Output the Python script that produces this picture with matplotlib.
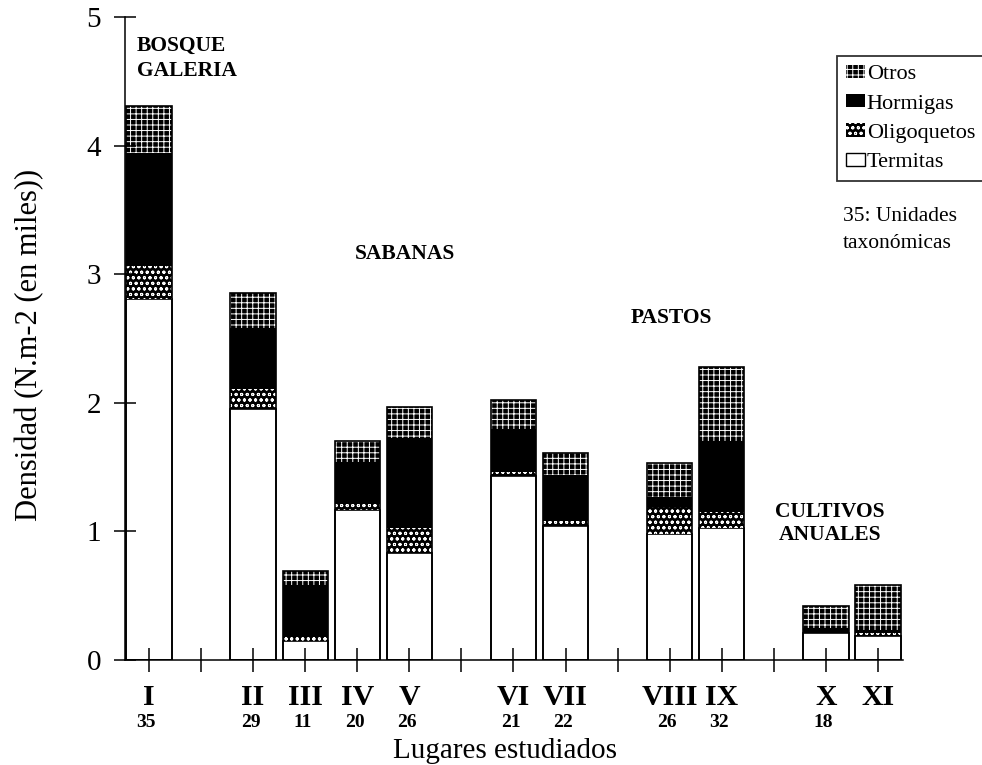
import matplotlib
matplotlib.use("Agg")
import matplotlib.pyplot as plt
from matplotlib.patches import Patch
from matplotlib.transforms import blended_transform_factory

plt.rcParams["font.family"] = ["Liberation Serif", "DejaVu Serif"]
plt.rcParams["hatch.linewidth"] = 0.7

# Study sites, grouped by land use (an empty slot separates groups)
site_groups = [["I"], ["II", "III", "IV", "V"], ["VI", "VII"], ["VIII", "IX"], ["X", "XI"]]
taxa_units = [35, 29, 11, 20, 26, 21, 22, 26, 32, 18, None]

# Density (thousands of individuals per m2) by group
termitas = [2.81, 1.95, 0.15, 1.17, 0.83, 1.43, 1.04, 0.98, 1.03, 0.21, 0.19]
oligoquetos = [0.25, 0.16, 0.03, 0.04, 0.20, 0.03, 0.04, 0.21, 0.12, 0.00, 0.02]
hormigas = [0.88, 0.47, 0.40, 0.33, 0.70, 0.34, 0.36, 0.08, 0.55, 0.04, 0.02]
otros = [0.37, 0.27, 0.11, 0.16, 0.24, 0.22, 0.17, 0.26, 0.58, 0.17, 0.35]

# Slot layout: one slot per site plus one empty slot between groups
sites, xpos, slot = [], [], 0
for gi, grp in enumerate(site_groups):
    if gi > 0:
        slot += 1
    for s in grp:
        sites.append(s)
        xpos.append(slot)
        slot += 1
n_slots = slot

OTROS_HATCH = "+++"
OLIGO_HATCH = "ooo"

fig = plt.figure(figsize=(9.82, 7.65), dpi=100)
ax = fig.add_axes([125 / 982, 1 - 660 / 765, (903 - 125) / 982, (660 - 17) / 765])

width = 0.87
bottom = [0.0] * len(sites)

# Termitas: white
ax.bar(xpos, termitas, width, bottom=bottom, facecolor="white", edgecolor="black", linewidth=1.2)
bottom = [b + v for b, v in zip(bottom, termitas)]
# Oligoquetos: black with white dotted pattern
ax.bar(xpos, oligoquetos, width, bottom=bottom, facecolor="black", edgecolor="white",
       hatch=OLIGO_HATCH, linewidth=0)
bottom = [b + v for b, v in zip(bottom, oligoquetos)]
# Hormigas: solid black
ax.bar(xpos, hormigas, width, bottom=bottom, facecolor="black", edgecolor="black", linewidth=0)
bottom = [b + v for b, v in zip(bottom, hormigas)]
# Otros: black with white grid
ax.bar(xpos, otros, width, bottom=bottom, facecolor="black", edgecolor="white",
       hatch=OTROS_HATCH, linewidth=0)
bottom = [b + v for b, v in zip(bottom, otros)]
# Outline of each full column
ax.bar(xpos, bottom, width, fill=False, edgecolor="black", linewidth=1.2)

ax.set_xlim(-0.46, n_slots - 1 + 0.48)
ax.set_ylim(0, 5)
ax.spines["top"].set_visible(False)
ax.spines["right"].set_visible(False)
for sp in ("left", "bottom"):
    ax.spines[sp].set_linewidth(1.1)

ax.set_xticks(range(n_slots))
ax.set_xticklabels([])
ax.tick_params(axis="x", direction="inout", length=17, width=1.1)
ax.set_yticks(range(6))
ax.tick_params(axis="y", direction="inout", length=16.5, width=1.1, labelsize=21, pad=9)

trans = blended_transform_factory(ax.transData, ax.transAxes)
for x, s, n in zip(xpos, sites, taxa_units):
    ax.text(x, -0.058, s, transform=trans, ha="center", va="center",
            fontsize=21.5, fontweight="bold")
    if n is not None:
        ax.text(x - 0.05, (660 - 727) / 643, str(n), transform=trans, ha="center",
                va="baseline", fontsize=14, fontweight="bold")

fig.text(505 / 982, 1 - 758 / 765, "Lugares estudiados", ha="center", va="baseline", fontsize=21)
fig.text(30 / 982, 1 - 345 / 765, "Densidad (N.m-2 (en miles))", ha="center", va="center",
         rotation=90, fontsize=22)

# Land-use labels
ax.text(-0.23, 4.85, "BOSQUE\nGALERIA", ha="left", va="top", fontsize=15.5,
        fontweight="bold", linespacing=1.3)
ax.text(4.92, 3.16, "SABANAS", ha="center", va="center", fontsize=15.5, fontweight="bold")
ax.text(10.04, 2.66, "PASTOS", ha="center", va="center", fontsize=15.5, fontweight="bold")
ax.text(13.08, 1.06, "CULTIVOS\nANUALES", ha="center", va="center", fontsize=15.5,
        fontweight="bold", linespacing=1.2)

fig.text(843 / 982, 1 - 230 / 765, "35: Unidades\ntaxonómicas", ha="left", va="center",
         fontsize=15.5, linespacing=1.55)

handles = [
    Patch(facecolor="black", edgecolor="white", hatch=OTROS_HATCH, linewidth=0),
    Patch(facecolor="black", edgecolor="black", linewidth=0),
    Patch(facecolor="black", edgecolor="white", hatch=OLIGO_HATCH, linewidth=0),
    Patch(facecolor="white", edgecolor="black", linewidth=1.0),
]
labels = ["Otros", "Hormigas", "Oligoquetos", "Termitas"]
leg = fig.legend(handles, labels, loc="upper left", bbox_to_anchor=(837 / 982, 1 - 56 / 765),
                 fontsize=16, frameon=True, fancybox=False, edgecolor="black",
                 handlelength=0.86, handleheight=0.54, handletextpad=0.08,
                 labelspacing=0.44, borderpad=0.4, borderaxespad=0)
leg.get_frame().set_linewidth(1.3)

fig.savefig("out.png", dpi=100)
